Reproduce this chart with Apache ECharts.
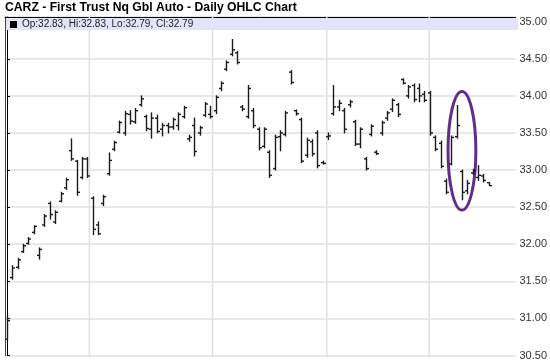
<!DOCTYPE html>
<html><head><meta charset="utf-8">
<script src="https://cdn.jsdelivr.net/npm/echarts@6/dist/echarts.min.js"></script>
<style>html,body{margin:0;padding:0;background:#fff}#c{width:550px;height:361px}</style>
</head><body><div id="c"></div>
<script>
const opens  = [30.72,31.55,31.69,31.90,32.01,32.16,31.85,32.26,32.55,32.30,32.58,32.76,33.26,33.12,32.90,33.15,32.62,32.26,32.55,32.95,33.28,33.51,33.50,33.75,33.65,33.88,33.72,33.55,33.70,33.55,33.60,33.58,33.60,33.72,33.42,33.60,33.50,33.74,33.75,33.80,34.10,34.36,34.56,34.58,33.85,33.72,33.80,33.55,33.32,33.24,33.02,33.45,33.48,34.32,33.80,33.68,33.20,33.38,33.50,33.10,33.45,33.76,33.85,33.80,33.88,33.65,33.35,33.15,33.48,33.24,33.50,33.70,33.82,33.88,34.22,34.00,34.14,34.10,34.02,34.04,33.44,33.36,32.85,33.08,33.45,32.98,32.72,32.96,32.90,32.92,32.83];
const highs  = [31.04,31.71,31.81,32.00,32.09,32.25,31.95,32.40,32.57,32.45,32.70,32.89,33.42,33.13,33.17,33.17,32.64,32.30,32.66,33.23,33.39,33.66,33.79,33.80,33.83,34.00,33.74,33.77,33.74,33.63,33.63,33.70,33.77,33.86,33.47,33.70,33.59,33.91,33.86,34.00,34.19,34.47,34.76,34.60,33.87,34.14,33.83,33.57,33.57,33.26,33.47,33.53,33.79,34.34,33.81,33.70,33.43,33.41,33.53,33.12,33.50,34.14,33.94,33.83,33.94,33.67,33.57,33.17,33.61,33.26,33.66,33.79,33.96,33.90,34.23,34.14,34.16,34.16,34.06,34.06,33.46,33.39,32.88,33.46,33.87,33.00,32.86,33.01,33.06,32.94,32.83];
const lows   = [30.71,31.53,31.67,31.89,32.00,32.14,31.80,32.24,32.34,32.28,32.57,32.74,33.13,32.66,32.88,32.90,32.13,32.13,32.52,32.93,33.26,33.50,33.47,33.62,33.63,33.86,33.53,33.43,33.50,33.46,33.50,33.55,33.54,33.70,33.39,33.19,33.47,33.72,33.70,33.76,34.07,34.34,34.54,34.43,33.80,33.70,33.57,33.27,33.30,32.90,33.00,33.26,33.46,34.16,33.74,33.10,33.17,33.19,33.03,33.08,33.41,33.74,33.80,33.50,33.85,33.33,33.30,33.00,33.46,33.21,33.47,33.67,33.79,33.72,34.16,33.97,33.92,33.92,33.92,33.47,33.26,33.03,32.68,33.07,33.43,32.60,32.68,32.94,32.86,32.84,32.79];
const closes = [30.97,31.68,31.79,31.98,32.07,32.24,31.93,32.38,32.40,32.43,32.68,32.87,33.15,32.70,33.15,32.92,32.20,32.14,32.64,33.13,33.37,33.64,33.76,33.66,33.80,33.96,33.56,33.70,33.52,33.60,33.58,33.68,33.75,33.84,33.44,33.25,33.57,33.89,33.72,33.98,34.17,34.45,34.62,34.45,33.82,34.10,33.60,33.30,33.55,32.93,33.44,33.50,33.77,34.18,33.76,33.12,33.40,33.22,33.06,33.09,33.46,33.85,33.90,33.55,33.92,33.35,33.55,33.02,33.59,33.22,33.64,33.77,33.94,33.75,34.17,34.12,33.95,34.00,33.94,33.50,33.28,33.05,32.70,33.44,33.60,32.70,32.82,32.99,32.93,32.86,32.79];
const monthLineX = [15.4, 38.4, 59.75, 78.9];
const xMin = -0.37, xMax = 95.0;
const yMin = 30.5, yMax = 35.063, yStep = 0.5;
const ellipseCenterX = 85.0, ellipseHalfX = 2.6, ellipseLow = 32.46, ellipseHigh = 34.06;

const n = closes.length;
const ohlc = opens.map((o, i) => [i, o, highs[i], lows[i], closes[i]]);
const f2 = v => v.toFixed(2);
const legendText = `Op:${f2(opens[n-1])}, Hi:${f2(highs[n-1])}, Lo:${f2(lows[n-1])}, Cl:${f2(closes[n-1])}`;

const chart = echarts.init(document.getElementById('c'), null, {renderer: 'canvas'});
const FONT = 'Liberation Sans, Arial, sans-serif';
chart.setOption({
  animation: false,
  backgroundColor: '#fff',
  title: {text: 'CARZ - First Trust Nq Gbl Auto - Daily OHLC Chart', left: 5, top: 2, padding: 0,
    textStyle: {fontFamily: FONT, fontSize: 12.2, fontWeight: 'bold', color: '#000'}},
  legend: {data: [{name: legendText, icon: 'rect'}], left: 6, top: 18, orient: 'horizontal',
    selectedMode: false, itemWidth: 7, itemHeight: 7, itemGap: 0,
    backgroundColor: '#e3e3fa', padding: [1, 325, 0, 4],
    textStyle: {fontFamily: FONT, fontSize: 10, color: '#222', padding: [1, 0, 0, 0], lineHeight: 10}},
  grid: {left: 5, right: 31, top: 17, bottom: 1.7, show: false, containLabel: false},
  xAxis: {type: 'value', position: 'top', min: xMin, max: xMax,
    axisLine: {show: true, onZero: false, lineStyle: {color: '#000', width: 1}},
    axisTick: {show: false}, axisLabel: {show: false}, splitLine: {show: false}},
  yAxis: [{type: 'value', position: 'right', min: yMin, max: yMax, interval: yStep,
    axisLine: {show: true, lineStyle: {color: '#000', width: 1}},
    axisTick: {show: true, length: 3, lineStyle: {color: '#000'}},
    axisLabel: {showMaxLabel: false, margin: 4, fontFamily: FONT, fontSize: 11, color: '#333', formatter: v => v.toFixed(2)},
    splitLine: {show: true, lineStyle: {color: '#e0e0e0', width: 1.5}}},
   {type: 'value', position: 'left', min: yMin, max: yMax, interval: yStep,
    axisLine: {show: true, onZero: false, lineStyle: {color: '#444', width: 1}},
    axisTick: {show: false}, axisLabel: {show: false}, splitLine: {show: false}}],
  series: [{
    type: 'custom', name: 'months', z: 1, silent: true, data: monthLineX.map(v => [v]),
    encode: {x: 0},
    renderItem: (params, api) => {
      const top = api.coord([api.value(0), yMax]);
      const bot = api.coord([api.value(0), yMin]);
      return {type: 'line', shape: {x1: top[0], y1: top[1], x2: bot[0], y2: bot[1] + 2}, style: {stroke: '#e0e0e0', lineWidth: 1.5}};
    }
  }, {
    name: legendText, type: 'custom', z: 3, data: ohlc, itemStyle: {color: '#000'},
    encode: {x: 0, y: [1, 2, 3, 4]},
    renderItem: (params, api) => {
      const i = api.value(0);
      const x = Math.round(api.coord([i, api.value(2)])[0]) + 0.5;
      const yo = api.coord([i, api.value(1)])[1];
      const yh = api.coord([i, api.value(2)])[1];
      const yl = api.coord([i, api.value(3)])[1];
      const yc = api.coord([i, api.value(4)])[1];
      const st = {stroke: '#1a1a1a', lineWidth: 1.4};
      const w = 2.5;
      return {type: 'group', children: [
        {type: 'line', shape: {x1: x, y1: yh - 0.5, x2: x, y2: yl + 0.5}, style: st},
        {type: 'line', shape: {x1: x - w, y1: yo, x2: x, y2: yo}, style: st},
        {type: 'line', shape: {x1: x, y1: yc, x2: x + w, y2: yc}, style: st}
      ]};
    },
    markLine: {silent: true, symbol: 'none', data: [{yAxis: closes[n-1]}],
      lineStyle: {opacity: 0},
      label: {show: true, position: 'end', distance: 1, formatter: f2(closes[n-1]),
        backgroundColor: '#111', color: '#fff', fontFamily: FONT, fontSize: 11, padding: [1, 1, 0, 1]}}
  }]
});

const pA = chart.convertToPixel({xAxisIndex: 0, yAxisIndex: 0}, [ellipseCenterX, ellipseHigh]);
const pB = chart.convertToPixel({xAxisIndex: 0, yAxisIndex: 0}, [ellipseCenterX + ellipseHalfX, ellipseLow]);
chart.setOption({graphic: [{type: 'ellipse', silent: true,
  shape: {cx: pA[0], cy: (pA[1] + pB[1]) / 2, rx: pB[0] - pA[0], ry: (pB[1] - pA[1]) / 2},
  style: {fill: 'none', stroke: '#612d8c', lineWidth: 3}}]});
</script></body></html>
